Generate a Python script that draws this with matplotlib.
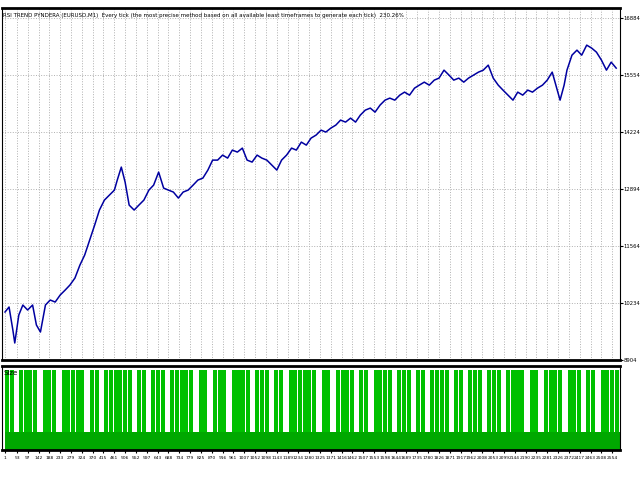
import numpy as np
import matplotlib.pyplot as plt

# equity curve (trade number, balance)
trade_no = [1, 18, 34, 42, 59, 76, 96, 117, 133, 150,
            171, 191, 212, 233, 254, 274, 295, 316, 336, 357, 378, 398, 419, 440, 461, 473, 490, 506,
            523, 544, 564, 585, 606, 626, 647, 668, 688, 709, 730, 750, 771, 792, 812, 833, 854, 874,
            895, 916, 937, 957, 978, 999, 1019, 1040, 1061, 1081, 1102, 1123, 1144, 1164, 1185, 1206, 1226,
            1247, 1268, 1288, 1309, 1330, 1350, 1371, 1392, 1412, 1433, 1454, 1475, 1495, 1516, 1537, 1557,
            1578, 1599, 1619, 1640, 1661, 1681, 1702, 1723, 1743, 1764, 1785, 1806, 1826, 1847, 1868, 1888,
            1909, 1930, 1950, 1971, 1992, 2012, 2033, 2054, 2075, 2095, 2116, 2137, 2157, 2178, 2199, 2219,
            2240, 2261, 2281, 2302, 2323, 2335, 2352, 2364, 2385, 2406, 2426, 2447, 2468, 2488, 2509, 2530,
            2550, 2571]
balance = [10024, 10141, 9604, 9301, 9954, 10187, 10071, 10187, 9721, 9557,
           10187, 10304, 10257, 10421, 10537, 10654, 10817, 11120, 11354, 11704, 12054, 12404, 12637, 12754, 12870, 13104, 13407, 13057,
           12520, 12404, 12520, 12637, 12870, 12987, 13290, 12917, 12870, 12824, 12684, 12824, 12870, 12987, 13104, 13150, 13337, 13570,
           13570, 13687, 13617, 13804, 13757, 13850, 13570, 13524, 13687, 13617, 13570, 13454, 13337, 13570, 13687, 13850, 13804,
           13990, 13920, 14084, 14154, 14270, 14224, 14317, 14387, 14504, 14457, 14550, 14457, 14620, 14737, 14784, 14690,
           14854, 14970, 15017, 14970, 15087, 15157, 15087, 15250, 15320, 15390, 15320, 15437, 15484, 15670, 15554, 15437,
           15484, 15390, 15484, 15554, 15624, 15670, 15787, 15484, 15320, 15204, 15087, 14970, 15157, 15087, 15204, 15157,
           15250, 15320, 15437, 15624, 15204, 14970, 15320, 15670, 16020, 16137, 16020, 16254, 16184, 16090, 15904, 15670,
           15857, 15717]

# lot sizes per chunk of trades (1 = full bar, 0 = small base lot)
lot_pattern = "1101111011101111101101111110110111011111011011101111011101101111110110111101101111011101101111011011101110111101101111011101101111"
x_ticks = [1, 53, 97, 142, 188, 233, 279, 324, 370, 415, 461, 506, 552, 597, 643, 688, 734, 779, 825, 870,
           916, 961, 1007, 1052, 1098, 1143, 1189, 1234, 1280, 1325, 1371, 1416, 1462, 1507, 1553, 1598, 1644, 1689, 1735, 1780,
           1826, 1871, 1917, 1962, 2008, 2053, 2099, 2144, 2190, 2235, 2281, 2326, 2372, 2417, 2463, 2508, 2554]
y_ticks = [8904, 10234, 11564, 12894, 14224, 15554, 16884]
title = "RSI TREND PYNDERA (EURUSD,M1)  Every tick (the most precise method based on all available least timeframes to generate each tick)  230.26%"

narrow = "Liberation Sans Narrow"
fig = plt.figure(figsize=(6.4, 4.8), dpi=100)
ax = fig.add_axes([0.003, 0.25, 0.965, 0.733])
vx = fig.add_axes([0.003, 0.0625, 0.965, 0.175])

xmin, xmax = -12, 2585
ax.plot(trade_no, balance, color="#0000a0", lw=1.1)
ax.set_xlim(xmin, xmax)
ax.set_ylim(8904, 17117)
ax.yaxis.tick_right()
ax.set_yticks(y_ticks)
ax.set_yticklabels([str(v) for v in y_ticks], fontsize=3.8, family=narrow)
ax.set_xticks(x_ticks)
ax.tick_params(axis="x", labelbottom=False, length=0)
ax.tick_params(axis="y", length=2, pad=1)
ax.grid(True, ls=":", color="#b0b0b0", lw=0.7)
ax.spines["top"].set_linewidth(2)
ax.spines["bottom"].set_linewidth(2)
ax.text(0.002, 0.985, title, transform=ax.transAxes, fontsize=4, va="top", ha="left", family=narrow)

chunk = (xmax - 0) / len(lot_pattern)
pos = np.arange(len(lot_pattern)) * chunk
sizes = np.array([int(c) for c in lot_pattern])
vx.bar(pos, np.where(sizes == 1, 1.0, 0.22), width=chunk * 0.85, align="edge", color="#00c000", lw=0)
vx.bar(pos, 0.22, width=chunk, align="edge", color="#00a800", lw=0)
vx.set_xlim(xmin, xmax)
vx.set_ylim(0, 1.05)
vx.set_yticks([])
vx.set_xticks(x_ticks)
vx.set_xticklabels([str(v) for v in x_ticks], fontsize=3.2, family=narrow)
vx.tick_params(axis="x", length=2, pad=2)
vx.spines["top"].set_linewidth(2)
vx.spines["bottom"].set_linewidth(2)
vx.text(0.003, 0.95, "Size", transform=vx.transAxes, fontsize=5, va="top", ha="left")

fig.savefig("out.png", dpi=100)
